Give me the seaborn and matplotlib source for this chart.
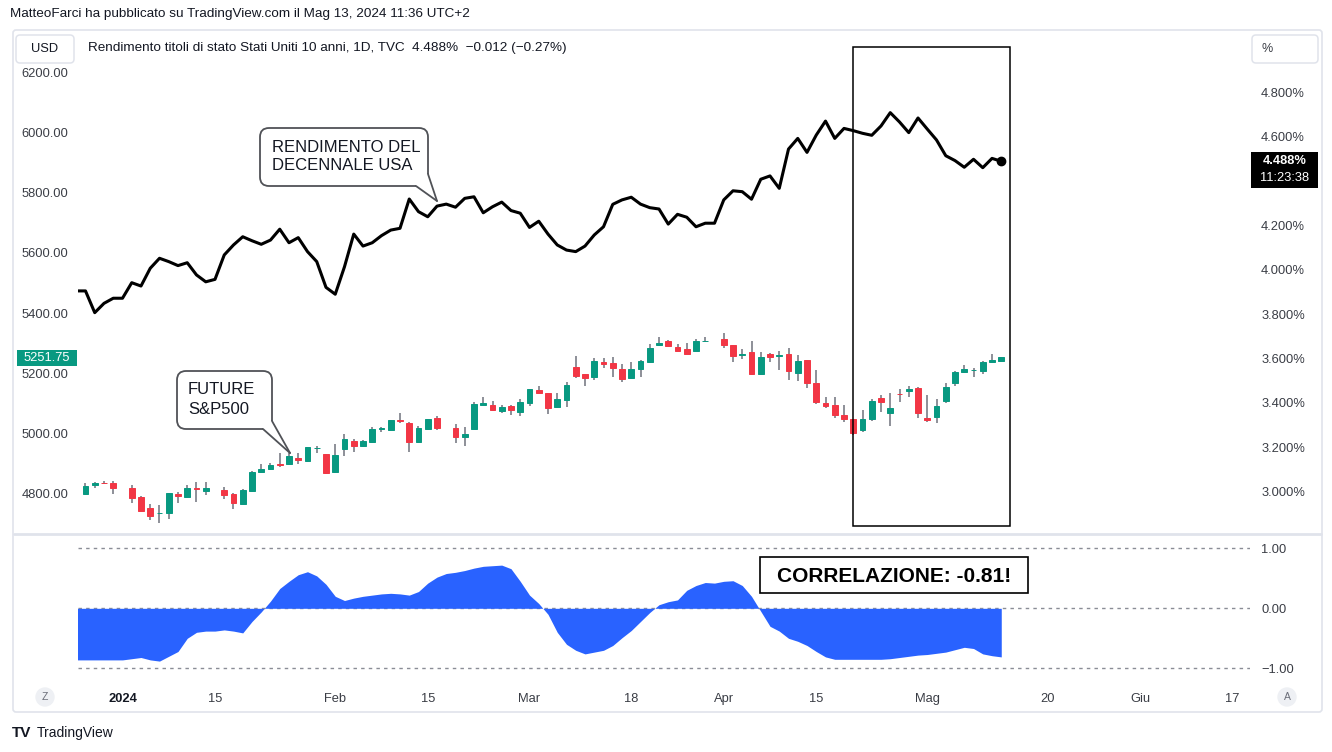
import numpy as np
import pandas as pd
import matplotlib
matplotlib.use("Agg")
import matplotlib.pyplot as plt
import seaborn as sns
from matplotlib.patches import FancyBboxPatch, Rectangle, Polygon
from matplotlib.transforms import Affine2D
from matplotlib.lines import Line2D

# ---------------- data ----------------
start_date = "2023-12-25"
end_date = "2024-05-13"
axis_end_date = "2024-06-17"

# S&P500 future daily candles (one entry per weekday, None = no bar)
sp_open = [None, 4797, 4826, 4834, 4834, None, 4816, 4788, 4749, 4732,
           4732, 4797, 4787, 4818, 4808, None, 4810, 4797, 4763, 4807,
           4870, 4879, 4898, 4897, 4917, 4906, 4949, 4929, 4870, 4948,
           4974, 4957, 4969, 5013, 5011, 5042, 5034, 4971, 5013, 5049,
           None, 5016, 4988, 5013, 5093, 5093, 5074, 5090, 5069, 5099,
           5142, 5132, 5088, 5110, 5219, 5196, 5188, 5238, 5234, 5213,
           5182, 5212, 5236, 5293, 5307, 5288, 5280, 5273, 5306, None,
           5312, 5293, 5261, 5271, 5197, 5262, 5258, 5262, 5201, 5243,
           5166, 5101, 5093, 5060, 5046, 5010, 5047, 5116, 5068, 5131,
           5139, 5149, 5049, 5052, 5107, 5166, 5202, 5209, 5207, 5238,
           5240]
sp_high = [None, 4833, 4838, 4839, 4839, None, 4827, 4790, 4763, 4760,
           4800, 4804, 4827, 4837, 4837, None, 4821, 4801, 4812, 4872,
           4896, 4901, 4932, 4932, 4932, 4953, 4957, 4930, 4962, 4996,
           4979, 4976, 5019, 5021, 5045, 5066, 5036, 5023, 5048, 5058,
           None, 5029, 5019, 5104, 5121, 5107, 5092, 5092, 5112, 5147,
           5157, 5134, 5132, 5169, 5257, 5197, 5249, 5249, 5252, 5229,
           5238, 5243, 5297, 5321, 5310, 5296, 5301, 5312, 5319, None,
           5332, 5295, 5279, 5308, 5271, 5268, 5273, 5282, 5260, 5245,
           5210, 5121, 5119, 5093, 5046, 5077, 5112, 5127, 5134, 5146,
           5156, 5152, 5127, 5112, 5168, 5206, 5227, 5216, 5240, 5262,
           5252]
sp_low = [None, 4796, 4816, 4829, 4797, None, 4766, 4739, 4710, 4701,
          4714, 4766, 4784, 4771, 4793, None, 4779, 4746, 4762, 4805,
          4868, 4877, 4888, 4895, 4897, 4904, 4934, 4863, 4868, 4923,
          4938, 4953, 4966, 5002, 5009, 5032, 4938, 4968, 5011, 5010,
          None, 4968, 4957, 5012, 5092, 5075, 5068, 5061, 5058, 5090,
          5132, 5063, 5084, 5086, 5184, 5158, 5177, 5218, 5188, 5169,
          5180, 5186, 5232, 5291, 5289, 5273, 5262, 5272, 5302, None,
          5284, 5236, 5246, 5193, 5193, 5238, 5210, 5177, 5173, 5149,
          5097, 5082, 5049, 5038, 4995, 5004, 5040, 5071, 5023, 5104,
          5119, 5049, 5038, 5034, 5099, 5157, 5199, 5188, 5196, 5232,
          5238]
sp_close = [None, 4823, 4834, 4832, 4816, None, 4782, 4741, 4724, 4735,
            4799, 4790, 4818, 4813, 4816, None, 4794, 4768, 4810, 4869,
            4879, 4894, 4895, 4923, 4911, 4952, 4951, 4866, 4926, 4979,
            4957, 4973, 5013, 5017, 5043, 5040, 4969, 5017, 5047, 5017,
            None, 4987, 4996, 5098, 5101, 5077, 5088, 5077, 5102, 5146,
            5134, 5082, 5113, 5160, 5191, 5182, 5241, 5229, 5216, 5180,
            5213, 5241, 5284, 5301, 5291, 5274, 5263, 5307, 5308, None,
            5293, 5258, 5263, 5196, 5252, 5252, 5260, 5207, 5241, 5166,
            5102, 5090, 5060, 5047, 4999, 5046, 5107, 5104, 5082, 5130,
            5147, 5066, 5043, 5090, 5152, 5204, 5213, 5210, 5238, 5243,
            5251.75]

# US 10Y yield (%)
us10y = [3.904, 3.904, 3.806, 3.848, 3.871, 3.871, 3.941, 3.926, 4.006, 4.051,
         4.036, 4.018, 4.031, 3.976, 3.945, 3.956, 4.066, 4.111, 4.148, 4.130,
         4.114, 4.133, 4.182, 4.121, 4.144, 4.081, 4.036, 3.920, 3.889, 4.013,
         4.160, 4.106, 4.121, 4.153, 4.178, 4.186, 4.318, 4.261, 4.238, 4.286,
         4.295, 4.281, 4.321, 4.328, 4.256, 4.283, 4.304, 4.266, 4.254, 4.190,
         4.218, 4.160, 4.111, 4.088, 4.081, 4.106, 4.156, 4.193, 4.294, 4.314,
         4.326, 4.295, 4.279, 4.273, 4.205, 4.249, 4.236, 4.193, 4.209, 4.209,
         4.314, 4.355, 4.351, 4.317, 4.407, 4.422, 4.366, 4.543, 4.591, 4.528,
         4.606, 4.669, 4.591, 4.636, 4.626, 4.614, 4.605, 4.647, 4.707, 4.665,
         4.617, 4.683, 4.633, 4.584, 4.513, 4.491, 4.461, 4.497, 4.459, 4.501,
         4.488]

# rolling correlation
correlation = [-0.86, -0.86, -0.86, -0.86, -0.86, -0.86, -0.84, -0.82, -0.86, -0.88,
               -0.80, -0.72, -0.50, -0.40, -0.38, -0.38, -0.36, -0.38, -0.41, -0.22,
               -0.06, 0.12, 0.33, 0.45, 0.56, 0.61, 0.54, 0.40, 0.20, 0.13,
               0.17, 0.20, 0.22, 0.24, 0.25, 0.24, 0.22, 0.28, 0.42, 0.52,
               0.58, 0.60, 0.63, 0.67, 0.70, 0.71, 0.72, 0.66, 0.45, 0.22,
               0.08, -0.10, -0.40, -0.60, -0.70, -0.76, -0.73, -0.70, -0.62, -0.49,
               -0.37, -0.22, -0.07, 0.06, 0.11, 0.14, 0.30, 0.38, 0.43, 0.42,
               0.45, 0.46, 0.38, 0.20, -0.05, -0.30, -0.38, -0.50, -0.55, -0.62,
               -0.72, -0.81, -0.85, -0.85, -0.85, -0.85, -0.85, -0.85, -0.84, -0.82,
               -0.80, -0.78, -0.77, -0.75, -0.73, -0.69, -0.65, -0.67, -0.76, -0.79,
               -0.81]

price_ticks = [4800, 5000, 5200, 5400, 5600, 5800, 6000, 6200]
yield_ticks = [3.0, 3.2, 3.4, 3.6, 3.8, 4.0, 4.2, 4.6, 4.8]
corr_ticks = [1.0, 0.0, -1.0]
corr_tick_labels = ["1.00", "0.00", "\u22121.00"]
time_tick_dates = ["2024-01-01", "2024-01-15", "2024-02-01", "2024-02-15", "2024-03-01",
                   "2024-03-18", "2024-04-01", "2024-04-15", "2024-05-01", "2024-05-20",
                   "2024-06-03", "2024-06-17"]
time_tick_labels = ["2024", "15", "Feb", "15", "Mar", "18", "Apr", "15", "Mag", "20", "Giu", "17"]

# ---------------- styling ----------------
sns.set_theme(style="white")
plt.rcParams["font.family"] = ["Liberation Sans", "DejaVu Sans"]
plt.rcParams["axes.unicode_minus"] = True

GREEN = "#089981"
RED = "#F23645"
WICK = "#6f727c"
BLUE = "#2962FF"
TXT = "#131722"
AX_TXT = "#3a3d45"
BORDER = "#E0E3EB"

W, H = 1332, 752
fig = plt.figure(figsize=(W / 100, H / 100), dpi=100)
fig.patch.set_facecolor("white")
PX = Affine2D().scale(1 / W, -1 / H).translate(0, 1) + fig.transFigure

def fx(x):
    return x / W

def fy(y):
    return 1 - y / H

# bar index on a weekday calendar
all_days = pd.bdate_range(start_date, axis_end_date)
origin = all_days.get_loc(pd.Timestamp("2024-01-01"))
days = pd.bdate_range(start_date, end_date)
xs = np.arange(len(days)) - origin
tick_pos = [all_days.get_loc(pd.Timestamp(d)) - origin for d in time_tick_dates]

o = np.array(sp_open, dtype=float)
h = np.array(sp_high, dtype=float)
l = np.array(sp_low, dtype=float)
c = np.array(sp_close, dtype=float)
yld = np.array(us10y, dtype=float)
corr = np.array(correlation, dtype=float)

XL, XR = 78, 1250
xlim = (-4.81, 121.89)

ax = fig.add_axes([fx(XL), fy(533), (XR - XL) / W, (533 - 30) / H])
ax2 = ax.twinx()
axc = fig.add_axes([fx(XL), fy(683), (XR - XL) / W, (683 - 535) / H])

for a in (ax, ax2, axc):
    for s in a.spines.values():
        s.set_visible(False)
    a.grid(False)
ax2.patch.set_alpha(0)

# ---------- candles ----------
valid = ~np.isnan(o)
cols = np.where(c[valid] >= o[valid], GREEN, RED)
ax.vlines(xs[valid], l[valid], h[valid], color=WICK, lw=1.1, zorder=2)
ax.bar(xs[valid], c[valid] - o[valid], bottom=o[valid], width=0.64,
       color=cols, edgecolor=cols, linewidth=0.7, zorder=3)
ax.set_xlim(*xlim)
ax.set_ylim(4666.7, 6343.3)
ax.set_yticks(price_ticks)
ax.set_yticklabels([f"{v:.2f}" for v in price_ticks])
ax.tick_params(axis="y", length=0, pad=7, labelsize=9.3, labelcolor=AX_TXT)
ax.set_xticks([])

# highlight rectangle (Apr 19 -> after May 13)
ax.add_patch(Rectangle((79.0, 4690), 16.95, 6287 - 4690, fill=False,
                       ec="black", lw=1.1, zorder=4))

# ---------- yield line ----------
sns.lineplot(x=xs, y=yld, ax=ax2, color="black", linewidth=2.2, zorder=5)
ax2.plot(xs[-1], yld[-1], "o", color="black", ms=6, zorder=6)
ax2.set_ylim(2.8135, 5.0793)
ax2.set_yticks(yield_ticks)
ax2.set_yticklabels([f"{v:.3f}%" for v in yield_ticks])
ax2.tick_params(axis="y", length=0, pad=8, labelsize=9.3, labelcolor=AX_TXT)
ax2.set_xlabel("")
ax2.set_ylabel("")
ax.set_xlim(*xlim)
ax2.set_xticks([])

# ---------- correlation ----------
axc.fill_between(xs, 0, corr, color=BLUE, lw=0, zorder=2)
for v in corr_ticks:
    axc.axhline(v, color="#8a8d96", lw=1, ls=(0, (2.5, 3)), zorder=1)
axc.set_xlim(*xlim)
axc.set_ylim(-1.245, 1.222)
axc.yaxis.tick_right()
axc.set_yticks(corr_ticks)
axc.set_yticklabels(corr_tick_labels)
axc.tick_params(axis="y", length=0, pad=8, labelsize=9.3, labelcolor=AX_TXT)
axc.set_xticks(tick_pos)
axc.set_xticklabels(time_tick_labels)
axc.tick_params(axis="x", length=0, pad=7, labelsize=9.3, labelcolor=AX_TXT)
for t in axc.get_xticklabels():
    if t.get_text() == "2024":
        t.set_fontweight("bold")
        t.set_color(TXT)

# ---------- chrome ----------
fig.add_artist(FancyBboxPatch((13, 30), 1309, 682, boxstyle="round,pad=0,rounding_size=3",
                              transform=PX, fc="none", ec=BORDER, lw=1.2))
fig.add_artist(Line2D([fx(14), fx(1321)], [fy(533.5), fy(533.5)], color=BORDER, lw=2))

fig.text(fx(10), fy(14), "MatteoFarci ha pubblicato su TradingView.com il Mag 13, 2024 11:36 UTC+2",
         fontsize=9.7, color=TXT, va="center", ha="left")

fig.add_artist(FancyBboxPatch((16, 35), 58, 28, boxstyle="round,pad=0,rounding_size=4",
                              transform=PX, fc="white", ec=BORDER, lw=1.1))
fig.text(fx(45), fy(49), "USD", fontsize=9.3, color=TXT, ha="center", va="center")
fig.text(fx(88), fy(48),
         "Rendimento titoli di stato Stati Uniti 10 anni, 1D, TVC  4.488%  \u22120.012 (\u22120.27%)",
         fontsize=9.7, color=TXT, ha="left", va="center")

fig.add_artist(FancyBboxPatch((1252, 35), 66, 28, boxstyle="round,pad=0,rounding_size=4",
                              transform=PX, fc="white", ec=BORDER, lw=1.1))
fig.text(fx(1262), fy(49), "%", fontsize=9, color=AX_TXT, ha="left", va="center")

# price labels on the scales
fig.add_artist(Rectangle((17, 350), 60, 16, transform=PX, fc=GREEN, ec="none"))
fig.text(fx(47), fy(358), "5251.75", fontsize=9.3, color="white", ha="center", va="center")
fig.add_artist(Rectangle((1251, 152), 67, 36, transform=PX, fc="black", ec="none"))
fig.text(fx(1285), fy(161), "4.488%", fontsize=9.3, color="white", ha="center", va="center",
         fontweight="bold")
fig.text(fx(1285), fy(178), "11:23:38", fontsize=9.3, color="white", ha="center", va="center")

# callouts
def callout(x0, y0, x1, y1, b1, b2, tip, lines, ys, tx):
    fig.add_artist(FancyBboxPatch((x0, y0), x1 - x0, y1 - y0,
                                  boxstyle="round,pad=0,rounding_size=9",
                                  transform=PX, fc="white", ec="#505257", lw=1.3))
    fig.add_artist(Polygon([(b1[0], b1[1] + 1.6), tip, (b2[0] + 1.6, b2[1]), (b1[0], b2[1])],
                           closed=True, transform=PX, fc="white", ec="none"))
    for b in (b1, b2):
        fig.add_artist(Line2D([fx(b[0]), fx(tip[0])], [fy(b[1]), fy(tip[1])],
                              color="#505257", lw=1.3))
    for t, yy in zip(lines, ys):
        fig.text(fx(tx), fy(yy), t, fontsize=12, color=TXT, ha="left", va="center")

callout(260, 128, 428, 186, (416, 186), (428, 174), (437, 201),
        ["RENDIMENTO DEL", "DECENNALE USA"], [147, 165], 272)
callout(177, 371, 272, 429, (263, 429), (272, 421), (290, 453),
        ["FUTURE", "S&P500"], [390, 409], 188)

fig.add_artist(Rectangle((760, 557), 268, 36, transform=PX, fc="white", ec="black", lw=1.2))
fig.text(fx(894), fy(576), "CORRELAZIONE: -0.81!", fontsize=15, fontweight="bold",
         color="black", ha="center", va="center")

# scroll buttons
for xx, lab in ((45, "Z"), (1287, "A")):
    fig.text(fx(xx), fy(697), lab, fontsize=7.5, color="#6a6d78", ha="center", va="center",
             bbox=dict(boxstyle="circle,pad=0.45", fc="#EEF0F4", ec="none"))

# logo
fig.text(fx(12), fy(733), "TV", fontsize=11, fontweight="bold", color=TXT, ha="left", va="center")
fig.text(fx(37), fy(733), "TradingView", fontsize=10, color=TXT, ha="left", va="center")

fig.savefig("out.png", dpi=100, facecolor="white")
